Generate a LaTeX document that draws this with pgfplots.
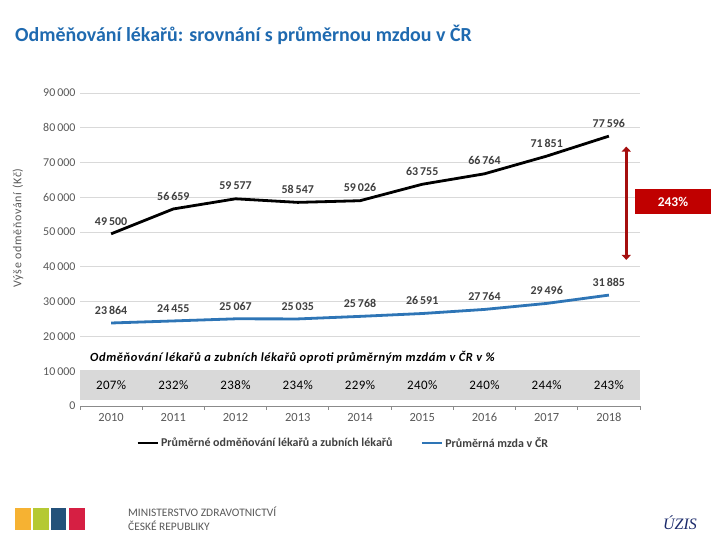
\documentclass[border=0pt]{standalone}
\usepackage{fontspec}
\setmainfont{Carlito}
\newfontfamily\serifuz{Liberation Serif}
\usepackage{pgfplots}
\pgfplotsset{compat=1.18}
\usetikzlibrary{arrows.meta}
\definecolor{titleblue}{HTML}{1F6AB0}
\definecolor{serblue}{HTML}{2E75B6}
\definecolor{darkred}{HTML}{C00000}
\definecolor{arrowred}{HTML}{A50E0E}
\definecolor{tickgray}{HTML}{595959}
\definecolor{labgray}{HTML}{404040}
\definecolor{gridgray}{HTML}{D9D9D9}
\definecolor{bandgray}{HTML}{D9D9D9}
\definecolor{logoyellow}{HTML}{F6B232}
\definecolor{logogreen}{HTML}{B5C933}
\definecolor{logoblue}{HTML}{24527A}
\definecolor{logored}{HTML}{D61F43}
\definecolor{uzisblue}{HTML}{1B2A6B}

\pgfplotstableread{
x y
2010 49500
2011 56659
2012 59577
2013 58547
2014 59026
2015 63755
2016 66764
2017 71851
2018 77596
}\doctors

\pgfplotstableread{
x y
2010 23864
2011 24455
2012 25067
2013 25035
2014 25768
2015 26591
2016 27764
2017 29496
2018 31885
}\wage

\pgfplotstableread{
x y p
2010 6000 207
2011 6000 232
2012 6000 238
2013 6000 234
2014 6000 229
2015 6000 240
2016 6000 240
2017 6000 244
2018 6000 243
}\ratio

\begin{document}
\begin{tikzpicture}[x=1bp,y=1bp]
\path[fill=white] (0,0) rectangle (720,540);
\node[anchor=west, inner sep=0pt, text=titleblue, font=\fontsize{20}{21}\selectfont\bfseries] at (15,505) {Odměňování lékařů: srovnání s průměrnou mzdou v ČR};
\node[rotate=90, inner sep=0pt, text=tickgray, font=\fontsize{12}{13}\selectfont\addfontfeature{LetterSpace=6}] at (18,312) {Výše odměňování (Kč)};

\begin{axis}[
  at={(80bp,134bp)}, anchor=south west,
  scale only axis, width=560bp, height=313bp,
  xmin=2009.5, xmax=2018.5, ymin=0, ymax=90000,
  clip=false,
  axis lines*=left,
  y axis line style={draw=none},
  x axis line style={draw=tickgray!70, line width=0.8bp},
  ytick={0,10000,...,90000},
  xtick={2010,2011,2012,2013,2014,2015,2016,2017,2018},
  xticklabels={2010,2011,2012,2013,2014,2015,2016,2017,2018},
  minor xtick={2009.5,2010.5,2011.5,2012.5,2013.5,2014.5,2015.5,2016.5,2017.5,2018.5},
  scaled y ticks=false,
  major tick length=0pt,
  minor tick length=4bp,
  tick align=outside,
  minor tick style={draw=tickgray!70, line width=0.8bp},
  ymajorgrids, major grid style={draw=gridgray, line width=0.8bp},
  /pgf/number format/.cd, fixed, precision=0, 1000 sep={\,}, assume math mode=true,
  /pgfplots/.cd,
  yticklabel={\pgfmathprintnumber[fixed, precision=0, 1000 sep={\,}]{\tick}},
  yticklabel style={font=\fontsize{12}{13}\selectfont, text=tickgray, xshift=-1bp},
  xticklabel style={font=\fontsize{12.5}{13}\selectfont, text=tickgray, anchor=north, yshift=-3bp, text height=9bp, text depth=1bp},
  legend style={at={(0.47,-0.118)}, anchor=center, draw=none, fill=none,
    font=\fontsize{12}{13}\selectfont\bfseries\color{labgray},
    /tikz/every even column/.append style={column sep=26bp}},
  legend columns=2,
  legend cell align=left,
  legend image code/.code={\draw[#1] (0bp,0bp) -- (20bp,0bp);},
]
\fill[bandgray] (axis cs:2009.5,1700) rectangle (axis cs:2018.5,10300);

\addplot[black, line width=2.8bp, mark=none,
  nodes near coords,
  nodes near coords style={font=\fontsize{12}{13}\selectfont\bfseries, text=labgray, anchor=south, yshift=4bp}]
  table[x=x,y=y] {\doctors};
\addlegendentry{Průměrné odměňování lékařů a zubních lékařů}

\addplot[serblue, line width=2.8bp, mark=none,
  nodes near coords,
  nodes near coords style={font=\fontsize{12}{13}\selectfont\bfseries, text=labgray, anchor=south, yshift=4bp}]
  table[x=x,y=y] {\wage};
\addlegendentry{Průměrná mzda v ČR}

\addplot[draw=none, mark=none, forget plot,
  point meta=explicit symbolic,
  nodes near coords={\pgfplotspointmeta\%},
  nodes near coords style={font=\fontsize{13}{14}\selectfont\addfontfeature{LetterSpace=3}, text=black, anchor=center}]
  table[x=x,y=y,meta=p] {\ratio};

\node[anchor=west, inner sep=0pt, font=\fontsize{12.5}{13}\selectfont\bfseries\itshape\addfontfeature{LetterSpace=5}, text=black]
  at (axis cs:2009.66,14100) {Odměňování lékařů a zubních lékařů oproti průměrným mzdám v ČR v \%};

\draw[arrowred, line width=3bp, {Triangle[width=9bp,length=5bp]}-{Triangle[width=9bp,length=5bp]}]
  (axis cs:2018.28,74600) -- (axis cs:2018.28,42000);
\node[fill=darkred, text=white, minimum width=76bp, minimum height=25bp, inner sep=0pt,
  font=\fontsize{13.5}{14}\selectfont\bfseries] at (axis cs:2019.03,58700) {243\%};
\end{axis}

% logos
\fill[logoyellow] (15,10) rectangle (31,32);
\fill[logogreen] (33,10) rectangle (49,32);
\fill[logoblue] (51,10) rectangle (66,32);
\fill[logored] (69,10) rectangle (85,32);
\node[anchor=west, inner sep=0pt, text=tickgray, font=\fontsize{11.5}{12}\selectfont] at (128,28) {MINISTERSTVO ZDRAVOTNICTVÍ};
\node[anchor=west, inner sep=0pt, text=tickgray, font=\fontsize{11.5}{12}\selectfont] at (128,14) {ČESKÉ REPUBLIKY};
\node[inner sep=0pt, text=uzisblue, font=\serifuz\fontsize{16}{17}\selectfont\itshape] at (680,17) {ÚZIS};
\end{tikzpicture}
\end{document}
